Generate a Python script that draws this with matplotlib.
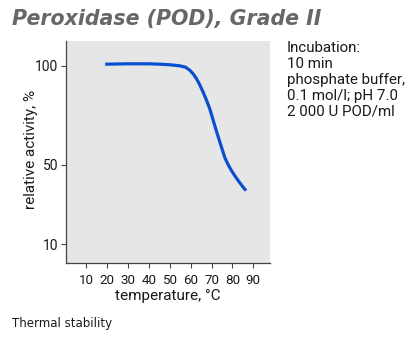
import matplotlib
matplotlib.use("Agg")
import matplotlib.pyplot as plt

temperature = [19, 30, 40, 45, 50, 54.7, 57.5, 59.5, 61.2, 62.7, 64.3, 65.9, 67.5, 69.1, 70.3,
               71.5, 74, 76.4, 78, 79.6, 81.2, 82.8, 84.6, 86.5]
activity = [100.8, 101, 101, 100.8, 100.5, 100, 99.3, 97.8, 95.9, 93.6, 90.5, 86.8, 82.8, 78.4,
            74.2, 69.9, 61.4, 53.5, 50, 47, 44.4, 42, 39.5, 37]
xticks = [10, 20, 30, 40, 50, 60, 70, 80, 90]
yticks = [10, 50, 100]

FONT = ["Roboto", "DejaVu Sans"]

fig = plt.figure(figsize=(4.16, 3.37), dpi=100)
ax = fig.add_axes([65.5/416, 1-263/337, (270-65.5)/416, (263-41)/337])
ax.set_facecolor("#e6e6e6")
ax.plot(temperature, activity, color="#0a4fd0", lw=2.3, solid_capstyle="butt",
        solid_joinstyle="round")
ax.set_xlim(0, 98)
ax.set_ylim(0.5, 112.5)
ax.set_xticks(xticks)
ax.set_yticks(yticks)
for s in ["top", "right"]:
    ax.spines[s].set_visible(False)
for s in ["left", "bottom"]:
    ax.spines[s].set_color("#444444")
    ax.spines[s].set_linewidth(0.9)
ax.tick_params(axis="both", direction="out", length=3.4, width=0.8, color="#444444",
               labelcolor="#1a1a1a")
ax.tick_params(axis="x", labelsize=9.6, pad=4.3)
ax.tick_params(axis="y", labelsize=10, pad=1.8)
for lab in ax.get_xticklabels() + ax.get_yticklabels():
    lab.set_family(FONT)
ax.set_xlabel("temperature, °C", fontsize=11, family=FONT, color="#1a1a1a")
ax.xaxis.label.set_va("center")
ax.xaxis.set_label_coords(0.5, (263-296)/222)
ax.set_ylabel("relative activity, %", fontsize=11, family=FONT, color="#1a1a1a")
ax.yaxis.label.set_va("center")
ax.yaxis.set_label_coords((31-65.5)/204.5, 0.51)

fig.text(12/416, 1-19/337, "Peroxidase (POD), Grade II", fontsize=14.8, fontweight="bold",
         style="italic", color="#676767", family="DejaVu Sans", va="center")
fig.text(287/416, 1-41/337,
         "Incubation:\n10 min\nphosphate buffer,\n0.1 mol/l; pH 7.0\n2 000 U POD/ml",
         fontsize=10.9, family=FONT, color="#1a1a1a", va="top", linespacing=1.18)
fig.text(12/416, 1-323/337, "Thermal stability", fontsize=8.5, family="DejaVu Sans",
         color="#1a1a1a", va="center")

fig.savefig("out.png", dpi=100)
